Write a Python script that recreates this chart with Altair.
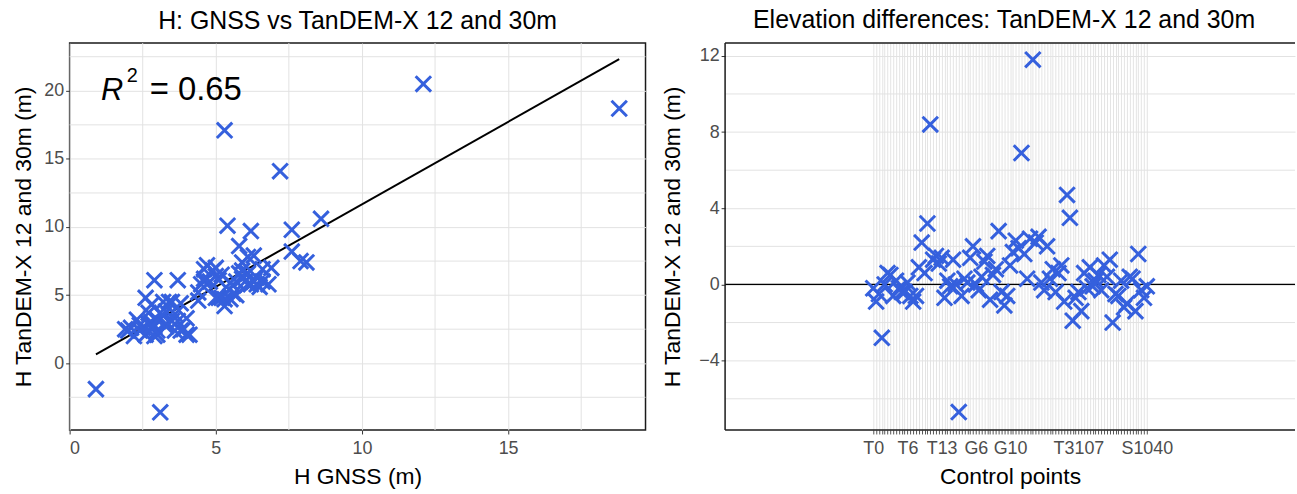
import altair as alt
import pandas as pd

# ---------------- data ----------------
categories = [
    "T0", "T0a", "T1", "T1a", "T2", "T2a", "T3", "T3a", "T4", "T4a", "T5", "T5a",
    "T6", "T6a", "T7", "T7a", "T8", "T9", "T9a", "T10", "T10a", "T11", "T11a", "T12",
    "T13", "T14", "T15", "T16", "T17", "T18", "G1", "G1a", "G2", "G3", "G4", "G5",
    "G6", "G6a", "G7", "G7a", "G8", "G8a", "G9", "G9a", "G9b", "G9c", "G9d", "G9e",
    "G10", "G11", "G12", "G13", "G14", "G15", "G16", "G17", "G18", "G19", "G20", "G21",
    "T3001", "T3010", "T3020", "T3031", "T3045", "T3052", "T3060", "T3071", "T3083", "T3090", "T3098", "T3102",
    "T3107", "T3112", "T3120", "T3131", "T3140", "T3155", "T3163", "T3170", "T3188", "T3195", "S1001", "S1004",
    "S1007", "S1010", "S1012", "S1015", "S1018", "S1021", "S1024", "S1027", "S1030", "S1033", "S1035", "S1038",
    "S1040",
]

# elevation differences (TanDEM-X minus GNSS), m
diff_values = [
    -0.2, -0.9, -0.5, -2.8, 0.0, 0.6, 0.5, -0.6, 0.2, -0.2, -0.4, -0.4,
    0.1, -0.6, -0.9, -0.6, 0.9, 2.2, 0.6, 3.2, 8.4, 1.3, 1.5, 1.1,
    1.4, -0.7, 0.2, -0.1, 1.3, 0.0, -6.7, -0.6, 0.3, 0.1, 1.4, 2.0,
    0.0, -0.3, 0.4, 1.2, 1.5, -0.8, 0.5, 0.8, 2.8, -0.4, -1.1, -0.6,
    1.0, 1.7, 2.3, 1.9, 6.9, 1.6, 0.3, 2.4, 11.8, 2.2, 2.5, 0.1,
    -0.3, 2.0, 0.3, 0.8, -0.4, 0.6, 1.0, -0.9, 4.7, 3.5, -1.9, -0.7,
    -0.4, -1.4, 0.6, -0.2, 0.9, -0.1, 0.2, 0.5, -0.3, 1.0, 0.4, 1.3,
    -2.0, -0.5, -0.6, 0.2, -1.2, -1.0, 0.4, 0.3, -1.4, 1.6, -0.3, -0.7,
    -0.1,
]

# H GNSS, m
gnss_values = [
    2.2, 3.0, 2.6, 0.9, 2.4, 1.9, 2.1, 3.3, 2.7, 2.9, 3.3, 3.5,
    2.5, 3.0, 2.9, 3.7, 2.3, 2.6, 3.1, 2.9, 12.1, 3.2, 2.8, 3.4,
    5.0, 4.0, 4.4, 18.8, 5.2, 3.6, 3.1, 5.3, 3.2, 5.6, 4.6, 8.6,
    6.0, 5.1, 2.4, 4.8, 5.9, 5.5, 6.1, 5.8, 5.8, 5.2, 5.3, 6.4,
    3.5, 6.1, 4.6, 4.9, 7.2, 6.3, 6.6, 3.7, 5.3, 7.6, 4.7, 6.9,
    6.3, 5.0, 5.7, 4.4, 6.2, 3.8, 5.1, 6.5, 5.4, 6.2, 4.0, 8.1,
    7.9, 3.8, 7.6, 5.0, 5.9, 6.4, 2.8, 3.3, 6.1, 2.7, 5.5, 4.5,
    4.1, 5.6, 6.6, 3.0, 3.6, 6.8, 2.0, 5.9, 3.9, 4.6, 6.3, 5.7,
    2.8,
]

# H TanDEM-X 12 and 30m, m
tandem_values = [
    2.0, 2.1, 2.1, -1.9, 2.4, 2.5, 2.6, 2.7, 2.9, 2.7, 2.9, 3.1,
    2.6, 2.4, 2.0, 3.1, 3.2, 4.8, 3.7, 6.1, 20.5, 4.5, 4.3, 4.5,
    6.4, 3.3, 4.6, 18.7, 6.5, 3.6, -3.6, 4.7, 3.5, 5.7, 6.0, 10.6,
    6.0, 4.8, 2.8, 6.0, 7.4, 4.7, 6.6, 6.6, 8.6, 4.8, 4.2, 5.8,
    4.5, 7.8, 6.9, 6.8, 14.1, 7.9, 6.9, 6.1, 17.1, 9.8, 7.2, 7.0,
    6.0, 7.0, 6.0, 5.2, 5.8, 4.4, 6.1, 5.6, 10.1, 9.7, 2.1, 7.4,
    7.5, 2.4, 8.2, 4.8, 6.8, 6.3, 3.0, 3.8, 5.8, 3.7, 5.9, 5.8,
    2.1, 5.1, 6.0, 3.2, 2.4, 5.8, 2.4, 6.2, 2.5, 6.2, 6.0, 5.0,
    2.7,
]

shown_labels = ["T0", "T6", "T13", "G6", "G10", "T3107", "S1040"]

left_x_major = [0, 5, 10, 15]
left_x_minor = [2.5, 7.5, 12.5, 17.5]
left_y_major = [0, 5, 10, 15, 20]
left_y_minor = [-2.5, 2.5, 7.5, 12.5, 17.5, 22.5]
right_y_major = [-4, 0, 4, 8, 12]
right_y_minor = [-6, -2, 2, 6, 10]
zero_line = [0]

r2_x = [1.07]
r2_y = [19.3]
r2_value = "= 0.65"

# ---------------- styling ----------------
FONT = "Liberation Sans"
BLUE = "#3560DD"
GRID = "#e2e2e2"
VGRID = "#e4e4e4"
FRAME = "#1a1a1a"
XSHAPE = "M-1,-1L1,1M-1,1L1,-1"

n = len(categories)
positions = list(range(n))  # ordinal position of each control point along the axis
df = pd.DataFrame({
    "cat": categories,
    "pos": positions,
    "diff": diff_values,
    "gnss": gnss_values,
    "tandem": tandem_values,
})

xs = alt.Scale(domain=[0, 19.7], nice=False, zero=False)
ys = alt.Scale(domain=[-4.9, 23.5], nice=False, zero=False)


def axis(values, title_pad, label_pad=2, **kw):
    return alt.Axis(values=values, grid=True, gridColor=GRID, gridWidth=1,
                    domain=False, ticks=True, tickColor="#333333", tickSize=4,
                    labelFontSize=18, labelColor="#4d4d4d", labelPadding=label_pad,
                    titleFontSize=23, titleColor="black", titleFontWeight="normal",
                    titlePadding=title_pad, labelFont=FONT, titleFont=FONT, **kw)


XT = "H GNSS (m)"
YT = "H TanDEM-X 12 and 30m (m)"


def xenc():
    return alt.X("gnss:Q", scale=xs, axis=axis(left_x_major, 8, 6), title=XT)


def yenc():
    return alt.Y("tandem:Q", scale=ys, axis=axis(left_y_major, 8), title=YT)


lx_minor = alt.Chart(pd.DataFrame({"gnss": left_x_minor})).mark_rule(
    color=GRID, strokeWidth=1).encode(x=xenc())
ly_minor = alt.Chart(pd.DataFrame({"tandem": left_y_minor})).mark_rule(
    color=GRID, strokeWidth=1).encode(y=yenc())

l_points = alt.Chart(df).mark_point(
    shape=XSHAPE, filled=False, size=240, strokeWidth=3, color=BLUE, opacity=1
).encode(x=xenc(), y=yenc())

l_fit = alt.Chart(df).transform_regression("gnss", "tandem").mark_line(
    color="black", strokeWidth=2
).encode(x=xenc(), y=yenc())

r2_df = pd.DataFrame({"gnss": r2_x, "tandem": r2_y})
r2_R = alt.Chart(r2_df).mark_text(
    text="R", font=FONT, fontSize=31, fontStyle="italic", align="left",
    baseline="alphabetic", color="black"
).encode(x=xenc(), y=yenc())
r2_sup = alt.Chart(r2_df).mark_text(
    text="2", font=FONT, fontSize=20, align="left", baseline="alphabetic",
    dx=26, dy=-18, color="black"
).encode(x=xenc(), y=yenc())
r2_rest = alt.Chart(r2_df).mark_text(
    text=r2_value, font=FONT, fontSize=33, align="left", baseline="alphabetic",
    dx=49, color="black"
).encode(x=xenc(), y=yenc())

left = alt.layer(lx_minor, ly_minor, l_fit, l_points, r2_R, r2_sup, r2_rest).properties(
    width=579, height=389,
    title=alt.TitleParams("H: GNSS vs TanDEM-X 12 and 30m"),
)

# ---------------- right panel ----------------
r_ydom = [-7.64, 12.67]
r_xdom = [-52, n - 1 + 52]
rys = alt.Scale(domain=r_ydom, nice=False, zero=False)
rxs = alt.Scale(domain=r_xdom, nice=False, zero=False)

label_expr = ""
for lab in shown_labels:
    label_expr += "datum.value == %d ? '%s' : " % (categories.index(lab), lab)
label_expr += "''"


def ryenc():
    return alt.Y("diff:Q", scale=rys, axis=axis(right_y_major, 14), title=YT)


def rxenc():
    return alt.X(
        "pos:Q", scale=rxs, title="Control points",
        axis=alt.Axis(values=positions, labelExpr=label_expr,
                      labelAngle=0, labelOverlap=False, labelFlush=False, labelBound=False,
                      grid=True, gridColor=VGRID, gridWidth=1,
                      domain=False, ticks=True, tickColor="#555555", tickSize=4,
                      labelFontSize=18, labelColor="#4d4d4d", labelPadding=6,
                      titleFontSize=23, titleColor="black", titleFontWeight="normal",
                      titlePadding=8, labelFont=FONT, titleFont=FONT),
    )


ry_minor = alt.Chart(pd.DataFrame({"diff": right_y_minor})).mark_rule(
    color=GRID, strokeWidth=1).encode(y=ryenc())
r_zero = alt.Chart(pd.DataFrame({"diff": zero_line})).mark_rule(
    color="black", strokeWidth=1.3).encode(y=ryenc())
r_points = alt.Chart(df).mark_point(
    shape=XSHAPE, filled=False, size=240, strokeWidth=3, color=BLUE, opacity=1
).encode(x=rxenc(), y=ryenc(), tooltip=["cat:N", "diff:Q"])

# panel border (left, top and bottom edges; the right edge falls outside the picture)
r_border_h = alt.Chart(pd.DataFrame({"diff": r_ydom})).mark_rule(
    color=FRAME, strokeWidth=1.5).encode(y=ryenc())
r_border_v = alt.Chart(pd.DataFrame({"pos": [r_xdom[0]]})).mark_rule(
    color=FRAME, strokeWidth=1.5).encode(x=rxenc())

right = alt.layer(ry_minor, r_zero, r_points, r_border_h, r_border_v).properties(
    width=573, height=389,
    title=alt.TitleParams("Elevation differences: TanDEM-X 12 and 30m", dx=-6),
    view=alt.ViewBackground(stroke="transparent"),
)

chart = alt.hconcat(left, right, spacing=13).properties(
    padding={"left": 12, "top": 6, "right": 0, "bottom": 0},
    background="white",
).configure_view(
    stroke=FRAME, strokeWidth=1.5
).configure_title(
    font=FONT, fontSize=25, fontWeight="normal", color="black", anchor="middle", offset=9
)

chart.save("out.html", embed_options={"renderer": "svg", "actions": False})
